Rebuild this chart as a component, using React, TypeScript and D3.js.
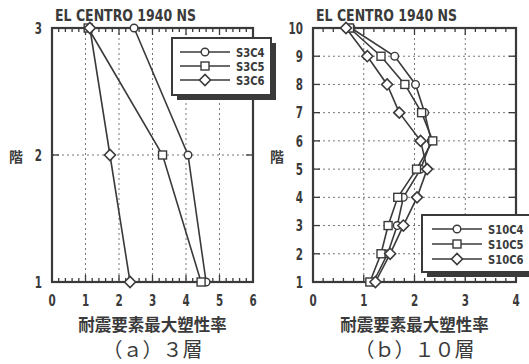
import React from 'react';
import { scaleLinear, line, range } from 'd3';

// left panel: 3 storey
const floors3 = [1, 2, 3];
const s3c4 = [4.6, 4.06, 2.45];
const s3c5 = [4.45, 3.3, 1.08];
const s3c6 = [2.33, 1.73, 1.13];
const xTicks3 = [0, 1, 2, 3, 4, 5, 6];

// right panel: 10 storey
const floors10 = [1, 2, 3, 4, 5, 6, 7, 8, 9, 10];
const s10c4 = [1.19, 1.47, 1.66, 1.78, 2.12, 2.33, 2.2, 2.02, 1.61, 0.75];
const s10c5 = [1.12, 1.34, 1.48, 1.67, 2.04, 2.36, 2.14, 1.81, 1.34, 0.72];
const s10c6 = [1.23, 1.52, 1.78, 2.05, 2.25, 2.12, 1.7, 1.46, 1.07, 0.65];
const xTicks10 = [0, 1, 2, 3, 4];

const names3 = ['S3C4', 'S3C5', 'S3C6'];
const names10 = ['S10C4', 'S10C5', 'S10C6'];
const markers = ['circle', 'square', 'diamond'];

const ink = '#3a3a3a';
const latin = '"DejaVu Sans Condensed", "DejaVu Sans", sans-serif';
const cjk = '"Noto Sans CJK JP", sans-serif';

// narrow, tall lettering like the plotter font
const Narrow = ({ x, y, size = 16, sx = 0.72, anchor = 'start', children }) => (
    <text transform={`translate(${x},${y}) scale(${sx},1)`} dy="0.36em" textAnchor={anchor}
        fontFamily={latin} fontWeight="bold" fontSize={size} fill={ink}>{children}</text>
)

const Marker = ({ type, x, y }) => {
    if (type === 'circle') {
        return <circle cx={x} cy={y} r={3.8} fill="white" stroke={ink} strokeWidth={1.4} />
    }
    if (type === 'square') {
        return <rect x={x - 4} y={y - 4} width={8} height={8} fill="white" stroke={ink} strokeWidth={1.4} />
    }
    return <path d={`M${x - 5.5},${y}L${x},${y - 5.5}L${x + 5.5},${y}L${x},${y + 5.5}Z`} fill="white" stroke={ink} strokeWidth={1.6} />
}

const Panel = ({ x0, x1, y0, y1, xMax, floors, series, names, xTicks, legend, title, caption }) => {
    const xs = scaleLinear().domain([0, xMax]).range([x0, x1]);
    const ys = scaleLinear().domain([1, floors.length]).range([y1, y0]);
    const minor = range(0, xMax + 0.001, 0.2);
    const path = line().x(d => xs(d[0])).y(d => ys(d[1]));
    const cx = (x0 + x1) / 2;

    return (
        <g>
            {/* grid */}
            {xTicks.slice(1, -1).map(t => (
                <line key={'gx' + t} x1={xs(t)} x2={xs(t)} y1={y0} y2={y1} stroke="#777" strokeWidth={1} strokeDasharray="2,3" />
            ))}
            {floors.slice(1, -1).map(f => (
                <line key={'gy' + f} x1={x0} x2={x1} y1={ys(f)} y2={ys(f)} stroke="#777" strokeWidth={1} strokeDasharray="2,3" />
            ))}
            {/* minor / major x ticks top and bottom */}
            {minor.map((t, i) => {
                const len = i % 5 === 0 ? 7 : 4;
                return (
                    <g key={'mt' + i}>
                        <line x1={xs(t)} x2={xs(t)} y1={y1} y2={y1 - len} stroke={ink} strokeWidth={1.3} />
                        <line x1={xs(t)} x2={xs(t)} y1={y0} y2={y0 + len} stroke={ink} strokeWidth={1.3} />
                    </g>
                )
            })}
            {floors.map(f => (
                <g key={'yt' + f}>
                    <line x1={x0} x2={x0 + 7} y1={ys(f)} y2={ys(f)} stroke={ink} strokeWidth={1.3} />
                    <line x1={x1} x2={x1 - 7} y1={ys(f)} y2={ys(f)} stroke={ink} strokeWidth={1.3} />
                    <Narrow x={x0 - 10} y={ys(f)} anchor="end">{f}</Narrow>
                </g>
            ))}
            <rect x={x0} y={y0} width={x1 - x0} height={y1 - y0} fill="none" stroke={ink} strokeWidth={2.2} />
            {xTicks.map(t => (
                <Narrow key={'xl' + t} x={xs(t)} y={y1 + 18} anchor="middle">{t}</Narrow>
            ))}

            {/* data */}
            {series.map((s, i) => (
                <path key={'ln' + i} d={path(s.map((v, j) => [v, floors[j]]))} fill="none" stroke={ink} strokeWidth={1.6} />
            ))}
            {series.map((s, i) => s.map((v, j) => (
                <Marker key={'m' + i + '-' + j} type={markers[i]} x={xs(v)} y={ys(floors[j])} />
            )))}

            {/* legend */}
            <rect x={legend.x + 5} y={legend.y + 5} width={legend.w} height={legend.h} fill={ink} />
            <rect x={legend.x} y={legend.y} width={legend.w} height={legend.h} fill="white" stroke={ink} strokeWidth={2} />
            {names.map((n, i) => {
                const ly = legend.rows[i];
                return (
                    <g key={'lg' + n}>
                        <line x1={legend.l1} x2={legend.l2} y1={ly} y2={ly} stroke={ink} strokeWidth={1.6} />
                        <Marker type={markers[i]} x={(legend.l1 + legend.l2) / 2} y={ly} />
                        <Narrow x={legend.l2 + 6} y={ly} size={13} sx={0.86}>{n}</Narrow>
                    </g>
                )
            })}

            <text x={x0 + 3} y={16} dy="0.36em" fontFamily={latin} fontWeight="bold" fontSize={15} textLength={141} lengthAdjust="spacingAndGlyphs" fill={ink}>{title}</text>
            <text x={x0 - 36} y={(y0 + y1) / 2 + 2} dy="0.36em" textAnchor="middle" fontFamily={cjk} fontWeight="bold" fontSize={14} fill={ink}>階</text>
            <text x={cx} y={325} dy="0.36em" textAnchor="middle" fontFamily={cjk} fontWeight="bold" fontSize={16.5} fill={ink}>耐震要素最大塑性率</text>
            <text x={cx} y={350} dy="0.36em" textAnchor="middle" fontFamily={cjk} fontSize={20} fill={ink}>{caption}</text>
        </g>
    )
}

const App = () => {
    return (
        <div style={{ position: 'fixed', left: 0, top: 0 }}>
            <svg width={529} height={364} style={{ display: 'block', background: 'white' }}>
                <Panel
                    x0={52} x1={253} y0={28} y1={282} xMax={6}
                    floors={floors3} series={[s3c4, s3c5, s3c6]} names={names3} xTicks={xTicks3}
                    legend={{ x: 172, y: 38, w: 99, h: 57, l1: 180, l2: 230, rows: [52, 66, 80] }}
                    title="EL CENTRO 1940 NS" caption="（ａ）３層"
                />
                <Panel
                    x0={313} x1={516} y0={28} y1={282} xMax={4}
                    floors={floors10} series={[s10c4, s10c5, s10c6]} names={names10} xTicks={xTicks10}
                    legend={{ x: 422, y: 215, w: 112, h: 57, l1: 432, l2: 482, rows: [229, 244, 259] }}
                    title="EL CENTRO 1940 NS" caption="（ｂ）１０層"
                />
            </svg>
        </div>
    );
}

export default App;
